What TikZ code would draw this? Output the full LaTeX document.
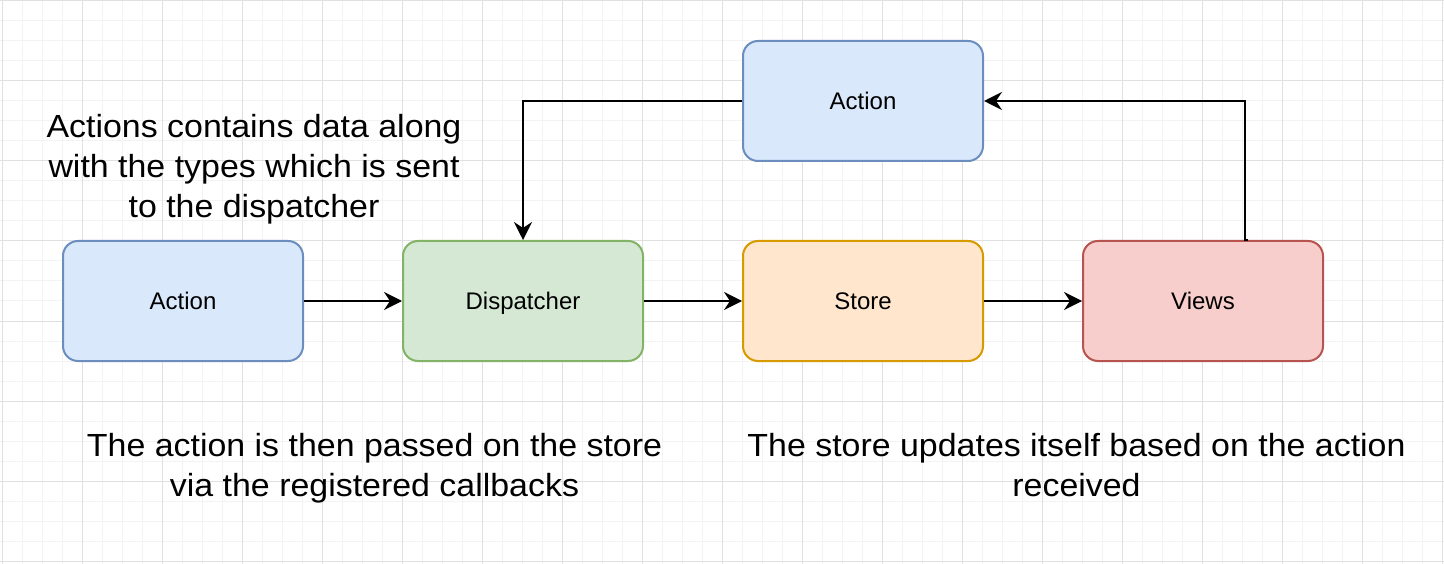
\documentclass[tikz,border=0pt]{standalone}
\usepackage{fontspec}
\setmainfont{Liberation Sans}
\newfontfamily\bigfont[FakeStretch=1.06]{Liberation Sans}
\usetikzlibrary{arrows.meta,calc}
\definecolor{minorgrid}{HTML}{F3F3F3}
\definecolor{majorgrid}{HTML}{E0E0E0}
\definecolor{bluefill}{HTML}{DAE8FC}
\definecolor{bluedraw}{HTML}{6C8EBF}
\definecolor{greenfill}{HTML}{D5E8D4}
\definecolor{greendraw}{HTML}{82B366}
\definecolor{orangefill}{HTML}{FFE6CC}
\definecolor{orangedraw}{HTML}{D79B00}
\definecolor{redfill}{HTML}{F8CECC}
\definecolor{reddraw}{HTML}{B85450}
\tikzset{
  box/.style={rectangle, rounded corners=15pt, minimum width=240pt, minimum height=120pt,
    inner sep=0pt, line width=2pt, text height=17.2pt, text depth=0pt,
    font=\fontsize{24}{28}\selectfont},
  bluebox/.style={box, fill=bluefill, draw=bluedraw},
  greenbox/.style={box, fill=greenfill, draw=greendraw},
  orangebox/.style={box, fill=orangefill, draw=orangedraw},
  redbox/.style={box, fill=redfill, draw=reddraw},
  conn/.style={line width=2pt, -{Stealth[length=18pt,width=18pt,inset=6pt]}},
  note/.style={align=center, inner sep=0pt, font=\bigfont\fontsize{32}{40}\selectfont},
  minorline/.style={draw=minorgrid, line width=1pt},
  majorline/.style={draw=majorgrid, line width=1pt}
}
\begin{document}
\begin{tikzpicture}[x=1pt,y=-1pt]
\useasboundingbox (0,0) rectangle (1444,564);
\fill[white] (0,0) rectangle (1444,564);
% grid
\foreach \i in {0,...,72} { \draw[minorline] ({2+20*\i},0) -- ({2+20*\i},564); }
\foreach \j in {0,...,28} { \draw[minorline] (0,{1+20*\j}) -- (1444,{1+20*\j}); }
\foreach \i in {0,...,18} { \draw[majorline] ({2+80*\i},0) -- ({2+80*\i},564); }
\foreach \j in {0,...,7} { \draw[majorline] (0,{1+80*\j}) -- (1444,{1+80*\j}); }
% boxes
\node[bluebox] (act1) at (183,301) {Action};
\node[greenbox] (disp) at (523,301) {Dispatcher};
\node[orangebox] (store) at (863,301) {Store};
\node[redbox] (views) at (1203,301) {Views};
\node[bluebox] (act2) at (863,101) {Action};
% notes
\node[note] (n1) at (254,169.4) {Actions contains data along\\with the types which is sent\\to the dispatcher};
\node[note] (n2) at (374.5,468.4) {The action is then passed on the store\\via the registered callbacks};
\node[note] (n3) at (1076.5,465) {The store updates itself based on the action\\received};
% connectors
\draw[conn] (act1) -- (disp);
\draw[conn] (disp) -- (store);
\draw[conn] (store) -- (views);
\coordinate (vs) at ($(views.north)+(45,0)$);
\draw[line width=2pt] (vs) -- ++(-4,0);
\draw[conn] ($(vs)+(-3,0)$) |- (act2.east);
\draw[conn] (act2.west) -| (disp.north);
\end{tikzpicture}
\end{document}
